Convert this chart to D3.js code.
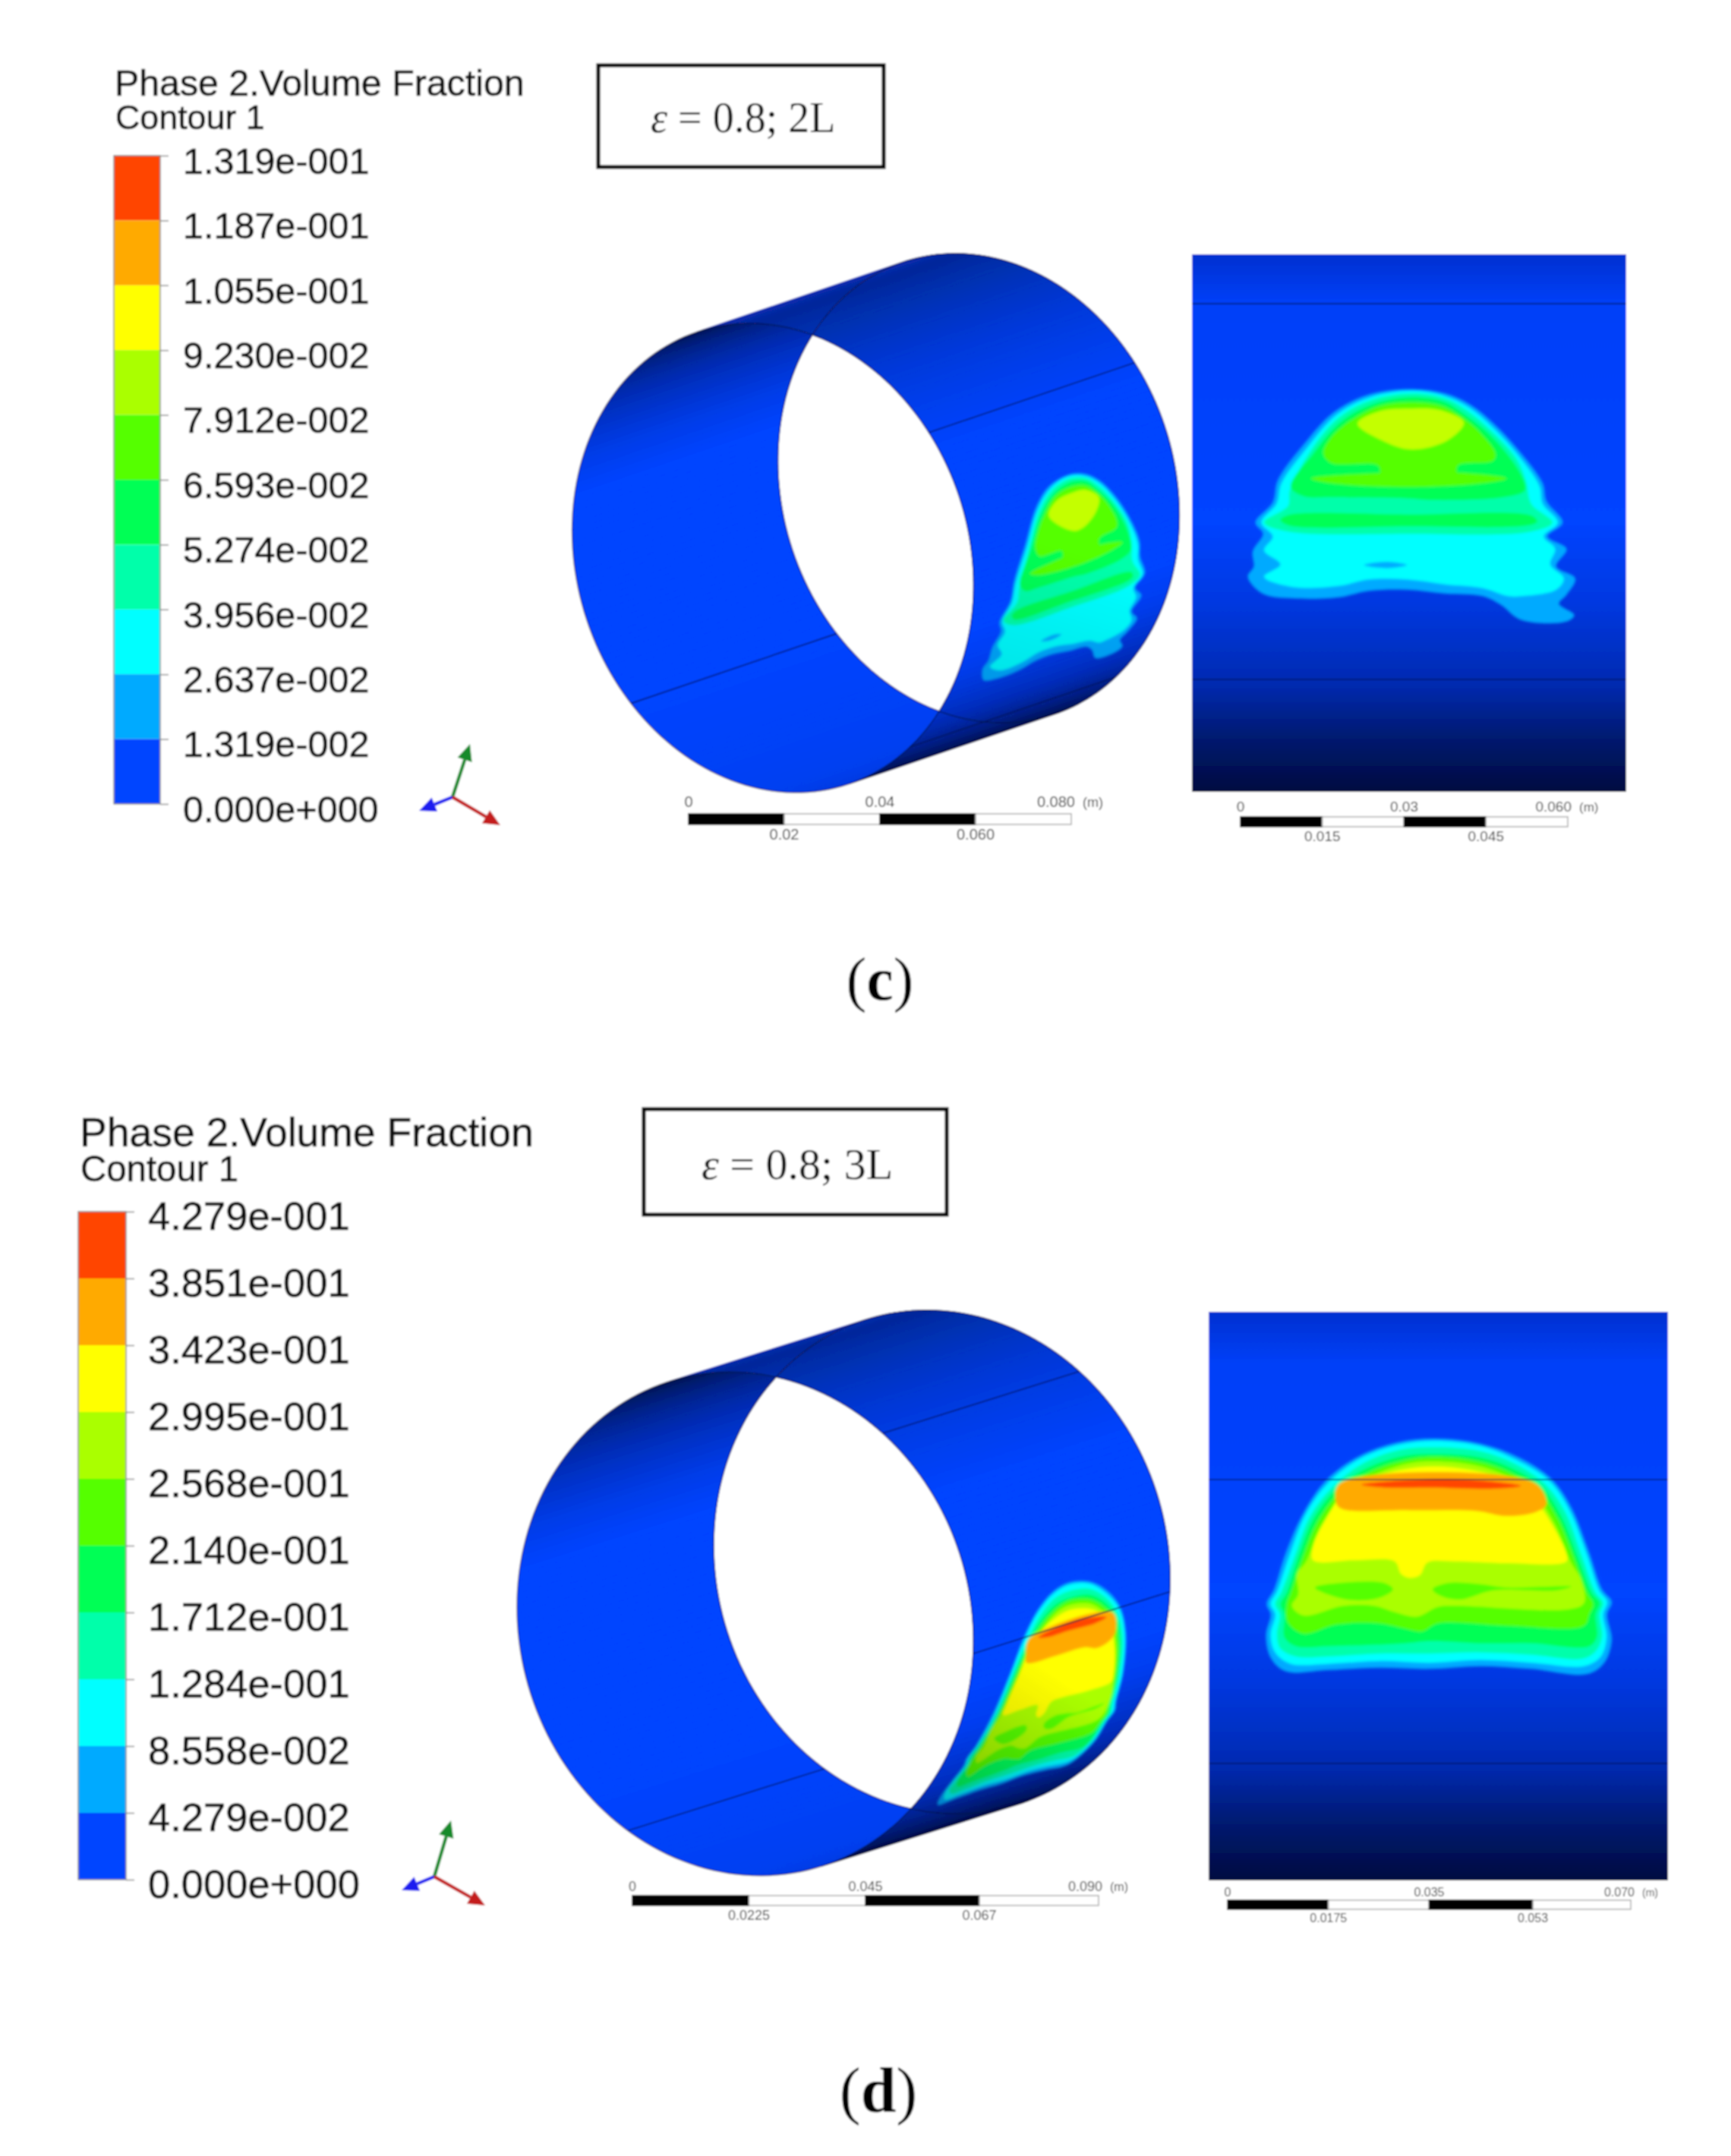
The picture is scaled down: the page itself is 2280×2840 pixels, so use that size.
<!DOCTYPE html>
<html><head><meta charset="utf-8">
<style>html,body{margin:0;padding:0;background:#fff}svg{display:block}text{font-family:"Liberation Sans",Arial,sans-serif}</style>
<script src="https://cdn.jsdelivr.net/npm/d3@7/dist/d3.min.js"></script>
</head><body><script>
// ---------- DATA ----------
const legendTitle = "Phase 2.Volume Fraction";
const legendSub = "Contour 1";
const bandColors = ["#0044ff","#00aaff","#00ffff","#00ffaa","#00ff55","#55ff00","#aaff00","#ffff00","#ffaa00","#ff4400"];
const labelsC = ["1.319e-001","1.187e-001","1.055e-001","9.230e-002","7.912e-002","6.593e-002","5.274e-002","3.956e-002","2.637e-002","1.319e-002","0.000e+000"];
const labelsD = ["4.279e-001","3.851e-001","3.423e-001","2.995e-001","2.568e-001","2.140e-001","1.712e-001","1.284e-001","8.558e-002","4.279e-002","0.000e+000"];
const caseC = "0.8; 2L", caseD = "0.8; 3L";
// scale-bar ticks in metres
const barCylC = [0,0.02,0.04,0.06,0.08], barCylCText = ["0","0.02","0.04","0.060","0.080"];
const barFlatC = [0,0.015,0.03,0.045,0.06], barFlatCText = ["0","0.015","0.03","0.045","0.060"];
const barCylD = [0,0.0225,0.045,0.067,0.09], barCylDText = ["0","0.0225","0.045","0.067","0.090"];
const barFlatD = [0,0.0175,0.035,0.053,0.07], barFlatDText = ["0","0.0175","0.035","0.053","0.070"];
// wall shading along the unrolled wall height (mm)
const wallMm = [0,9,50,65,80,90,100];
const wallColor = ["#0030d0","#0040f8","#0044ff","#0038e0","#002ab0","#001a70","#000a40"];
// cylinder shade against ring angle (deg)
const shadeRightDeg = [-115,-95,-80,-60,-35,10,20,38,52,68];
const shadeRightColor = ["#0a34c0","#06279a","#0630b0","#0038d8","#0044ff","#0044ff","#003ef0","#002cb8","#001c78","#000a40"];
const shadeLeftDeg = [65,90,135,188,198,215,235,248];
const shadeLeftColor = ["#0036d8","#0040f0","#0044ff","#0044ff","#003ce8","#002cb4","#031c70","#02134c"];
// seam heights (mm on the flat view), seam angles (deg on the cylinder)
const seamMmC = [9.2,79.1], seamMmD = [29.5,79.4];
const seamDegC = [-39,47,135], seamDegD = [-53,3,121];
// contour outlines: level = colour band, pts = [mm along the axis, mm down the wall]
const contoursC = [
 {level:1,pts:[[40.6,25.1],[46.6,25.9],[51.3,28],[55.9,31.8],[60.6,37],[64.6,42.6],[65.3,45.9],[68.3,49.9],[65.5,52.5],[69,54.8],[67.1,58.1],[70.6,60.3],[69,63.3],[67.6,65],[70.4,67.1],[69,68.3],[60.6,68],[56.9,65.2],[53.6,63.6],[46.6,63.1],[39.6,62.4],[32.6,62.6],[27,63.8],[18.6,64],[13,63.1],[10.3,60],[11.4,58.1],[11.2,55.3],[13.1,52],[11.7,49.9],[14.9,46.1],[15.8,42.1],[20.5,35.5],[26.1,29.4],[32.6,26.1]]},
 {level:2,pts:[[40.6,25.4],[46.6,26.4],[51,28.5],[55.5,32.3],[60.1,37.4],[64,43.1],[64.6,46.4],[67.4,49.9],[64.8,52.5],[66.9,54.8],[66,57.7],[68.5,60.3],[67.1,62.4],[60.6,63.6],[58.3,63.6],[53.6,62.1],[46.6,61.4],[39.6,60.5],[32.6,60.5],[27,61.7],[18.6,61.9],[13.3,60],[16.3,57.7],[13.3,55.1],[14.9,52.5],[12.8,49.9],[15.6,46.4],[16.5,42.6],[21.2,36],[26.6,29.9],[32.9,26.6]]},
 {level:1,pts:[[31.7,57.8],[35.9,57.2],[39.6,57.8],[35.9,58.4]]},
 {level:3,pts:[[40.6,25.9],[46.6,26.8],[50.6,29],[55,32.7],[59.7,37.9],[61.5,42.1],[62.5,46.4],[66.4,49.9],[62.5,51.6],[39.6,52],[17.7,51.6],[13.3,49.9],[17.7,46.8],[18,44],[21.9,36.5],[27,30.4],[33.1,27.1]]},
 {level:4,pts:[[16.3,49.4],[17.7,48.5],[39.6,48.4],[62.5,48.6],[63.6,49.7],[62,50.4],[39.6,50.6],[17.7,50.4]]},
 {level:4,pts:[[40.6,26.6],[46.6,27.5],[50.1,29.7],[54.5,33.2],[59,38.4],[61.3,42.6],[61.3,44],[57.3,45.2],[44.3,45.7],[39.6,45.4],[25.6,45.2],[20.5,45],[18.2,43.3],[22.4,37],[27.5,31.1],[33.6,27.8]]},
 {level:5,pts:[[21.9,41.7],[34,40.7],[49,40.6],[58,41.7],[53.6,42.6],[40.6,43.3],[25.6,42.6]]},
 {level:5,pts:[[40.6,27.5],[46.1,28.2],[49.9,30.4],[53.1,33.2],[55.9,37],[55.5,38.4],[49,39.3],[48.5,41.2],[35,41.2],[34.3,39.3],[25.6,38.8],[24.2,37],[25.6,34.1],[29.4,30.8],[34.5,28.2]]},
 {level:6.3,pts:[[40.6,28.7],[45.7,29],[50.1,31.3],[47.1,34.6],[40.6,36.3],[35.4,34.8],[30.5,31.5],[34.5,29.2]]}
];
const contoursD = [
 {level:1,pts:[[39.4,22.3],[47.3,23.2],[54,25.6],[59.7,29.4],[63.2,34.5],[66.3,42.5],[68.5,48.8],[70.2,51],[69.4,53.2],[70.2,57.7],[68.9,61.7],[65.9,63.7],[56.2,62.8],[47.3,62.3],[38.5,62.8],[29.7,62.6],[20.9,63],[13.4,63.2],[10.8,60.8],[10,56.8],[10.8,53.2],[10.1,51.4],[11.4,48.8],[13.4,42.5],[16.5,35.4],[20.5,29.6],[26.2,25.4],[32.8,23]]},
 {level:2,pts:[[39.4,22.7],[47.3,23.6],[53.7,26.1],[59.3,29.7],[62.8,34.8],[65.9,42.8],[68,49],[69.4,51],[68.7,53.2],[69.3,57.2],[68.3,60.6],[65.4,62.3],[56.2,61.7],[47.3,61.2],[38.5,61.7],[29.7,61.4],[20.9,61.9],[14.3,61.9],[11.6,59.9],[10.8,56.8],[11.6,53.2],[10.8,51.4],[12,49],[14.1,42.8],[16.9,35.6],[20.9,30],[26.4,25.8],[33,23.4]]},
 {level:3,pts:[[39.4,23.8],[47.3,24.5],[53.3,26.7],[58.6,30.3],[62.1,35.2],[65,43],[67.3,49.2],[68.7,51.2],[68.1,53.2],[68.5,57.2],[67.4,59.7],[65,61],[56.2,60.3],[47.3,59.9],[38.5,60.1],[29.7,60.1],[20.9,60.6],[15.2,60.6],[12.5,59.2],[11.9,56.8],[12.4,53.2],[11.6,51.4],[12.7,49.2],[15,43],[17.6,36.1],[21.6,30.8],[26.8,26.7],[33.2,24.3]]},
 {level:4,pts:[[39.4,25],[47.3,25.6],[52.6,27.4],[57.9,30.7],[61.4,35.9],[64.3,43.2],[66.7,49.4],[68.1,51.2],[67.4,53.2],[67.6,57.2],[66.3,58.8],[56.2,58.3],[47.3,58.3],[38.5,57.9],[34.1,58.3],[20.9,58.8],[15.2,58.8],[13.2,57.2],[13.2,53.2],[12.5,51.4],[13.6,49.4],[15.6,43.2],[18.2,36.5],[22.2,31.2],[27.3,27.6],[33.7,25.4]]},
 {level:5,pts:[[39.4,25.5],[46.9,26.3],[52.2,28.1],[57.3,31.2],[60.8,36.3],[63.7,43.4],[65.9,49.4],[67,51.4],[66.3,53.2],[65.4,55.2],[51.8,55.2],[39.9,54.8],[37.2,56.2],[34.1,55.7],[29.7,54.8],[22.2,55],[16.5,56.6],[13.8,54.6],[13.6,51.4],[14.3,49.4],[16.3,43.4],[18.9,37],[22.9,31.6],[27.7,28.3],[34.1,26.1]]},
 {level:6,pts:[[39.4,26.3],[46.5,27],[51.8,28.8],[56.6,31.9],[60.1,37],[63,43.9],[64.8,47],[65.4,51.2],[62.8,52.3],[42.9,51.7],[39.9,51.9],[36.3,53.6],[32.4,52.8],[28.8,51.7],[23.5,51.7],[16.5,53.4],[14.5,51.7],[15.6,49.7],[15.4,46.1],[17,43.9],[19.6,37.6],[23.5,32.3],[28.2,29],[34.6,26.7]]},
 {level:5,pts:[[18.5,48.5],[22.7,47.7],[30.6,47.7],[32.1,48.8],[29.7,50.3],[24,50.6]]},
 {level:5,pts:[[39,48.8],[41.6,47.7],[47.3,47.9],[51.8,48.5],[63.2,48.3],[60.6,49],[49.5,49],[43.8,50.6],[40.3,49.9]]},
 {level:7,pts:[[39.4,27.2],[45.6,27.8],[51.3,29.3],[56.2,32.3],[59.7,37.2],[62.3,42.5],[62.3,43.9],[51.8,44.2],[42.9,43.9],[38.1,44.1],[36.8,46.3],[35,46.8],[33.5,46.1],[32.4,43.9],[25.3,43.7],[18.2,43.7],[18.2,41.2],[20.5,36.3],[24.2,31],[28.8,29],[34.6,27.6]]},
 {level:8,pts:[[22.9,30.1],[56.8,30.1],[58.8,33.9],[57,35.2],[51.8,35.9],[46.5,35],[35,34.9],[22.9,34.5],[22.1,33]]},
 {level:9,pts:[[26.6,30.4],[34.1,29.6],[45.1,29.5],[54.4,30.6],[50,31.1],[38.5,30.9],[30.6,30.9]]}
];

// ---------- DRAW ----------
const svg = d3.select("body").append("svg").attr("width",2280).attr("height",2840).attr("viewBox","0 0 2280 2840");
const defs = svg.append("defs");
const soft = defs.append("filter").attr("id","soft").attr("filterUnits","userSpaceOnUse").attr("x",0).attr("y",0).attr("width",2280).attr("height",2840);
soft.append("feGaussianBlur").attr("stdDeviation",1.3);
const blob = defs.append("filter").attr("id","blob").attr("filterUnits","userSpaceOnUse").attr("x",0).attr("y",0).attr("width",2280).attr("height",2840);
blob.append("feGaussianBlur").attr("stdDeviation",1.8);
const root = svg.append("g").attr("filter","url(#soft)");
root.append("rect").attr("width",2280).attr("height",2840).attr("fill","#fff");

const rad = d=>d*Math.PI/180;
const smooth = d3.line().curve(d3.curveCatmullRomClosed.alpha(0.5));
const levelColor = d3.scaleLinear().domain(d3.range(bandColors.length)).range(bandColors);

function legend(o,labels){
  const g = root.append("g").attr("stroke-linejoin","round");
  const ink = s=>s.attr("fill","#111").attr("stroke","#111").attr("stroke-width",0.7);
  ink(g.append("text").attr("x",o.x).attr("y",o.titleY).attr("font-size",o.titleSize)).text(legendTitle);
  ink(g.append("text").attr("x",o.x+1).attr("y",o.subY).attr("font-size",o.subSize)).text(legendSub);
  const y = d3.scalePoint().domain(labels).range([o.top,o.bottom]);
  const bands = labels.slice(0,-1).map((l,i)=>({a:l,b:labels[i+1],c:bandColors[bandColors.length-1-i]}));
  g.selectAll("rect.b").data(bands).join("rect").attr("class","b")
    .attr("x",o.barX).attr("width",o.barW).attr("y",d=>y(d.a)).attr("height",d=>y(d.b)-y(d.a)).attr("fill",d=>d.c);
  g.append("rect").attr("x",o.barX).attr("width",o.barW).attr("y",o.top).attr("height",o.bottom-o.top).attr("fill","none").attr("stroke","#8a8a8a").attr("stroke-width",1.5);
  const ax = g.append("g").attr("transform",`translate(${o.barX+o.barW},0)`).call(d3.axisRight(y).tickSize(11).tickPadding(o.pad));
  ax.select(".domain").remove();
  ax.selectAll("line").attr("stroke","#8a8a8a").attr("stroke-width",1.5);
  ink(ax.selectAll("text").attr("font-size",o.labelSize).attr("font-family","Liberation Sans").attr("dy",o.labelDy));
}

function caseBox(o,val){
  const g = root.append("g");
  g.append("rect").attr("x",o.x).attr("y",o.y).attr("width",o.w).attr("height",o.h).attr("fill","#fff").attr("stroke","#000").attr("stroke-width",5);
  const t = g.append("text").attr("x",o.tx).attr("y",o.ty).attr("font-size",o.fs).attr("fill","#111").style("font-family","Liberation Serif");
  t.append("tspan").attr("font-style","italic").text("\u03B5");
  t.append("tspan").text(" = ");
  t.append("tspan").text(val);
}

function wallGradient(id,y0,y1){
  const s = d3.scaleLinear().domain([0,100]).range([y0,y1]);
  const gr = defs.append("linearGradient").attr("id",id).attr("gradientUnits","userSpaceOnUse")
    .attr("x1",0).attr("x2",0).attr("y1",s(0)).attr("y2",s(100));
  wallMm.forEach((m,i)=>gr.append("stop").attr("offset",m/100).attr("stop-color",wallColor[i]));
}

function drawContours(parent,contours,project){
  const g = parent.append("g").attr("filter","url(#blob)");
  g.selectAll("path").data(contours).join("path")
    .attr("d",d=>smooth(d.pts.map(project))).attr("fill",d=>levelColor(d.level));
  return g;
}

function flatPanel(o,contours,seams){
  const x = d3.scaleLinear().domain([0,80]).range([o.x0,o.x1]);
  const y = d3.scaleLinear().domain([0,100]).range([o.y0,o.y1]);
  wallGradient(o.id,o.y0,o.y1);
  const g = root.append("g");
  g.append("rect").attr("x",o.x0).attr("y",o.y0).attr("width",o.x1-o.x0).attr("height",o.y1-o.y0).attr("fill",`url(#${o.id})`);
  drawContours(g,contours,p=>[x(p[0]),y(p[1])]);
  g.selectAll("line").data(seams).join("line").attr("x1",o.x0).attr("x2",o.x1).attr("y1",d=>y(d)).attr("y2",d=>y(d))
    .attr("stroke","#001050").attr("stroke-opacity",0.7).attr("stroke-width",1.6);
}

function cylinder(c,contours,seamDeg){
  const ring = (deg,s=0)=>{const t=rad(deg),co=Math.cos(t),si=Math.sin(t);
    return [c.cx+c.rx*co+s*c.dx, c.cy+c.ey*co+c.ry*si+s*c.dy];};
  const tangent = Math.atan2(c.ry*c.dx, c.ey*c.dx-c.rx*c.dy)*180/Math.PI;
  const shadeR = d3.scaleLinear().domain(shadeRightDeg).range(shadeRightColor).clamp(true);
  const shadeL = d3.scaleLinear().domain(shadeLeftDeg).range(shadeLeftColor).clamp(true);
  const poly = d3.line();
  const quads = (a,b)=>d3.range(a,b,1.5).map(t=>({t,q:[ring(t),ring(Math.min(t+1.5,b)),ring(Math.min(t+1.5,b),1),ring(t,1)]}));
  const g = root.append("g");
  const degs = d3.range(0,361,2);
  const closed = s=>d3.line()(degs.map(d=>ring(d,s)))+"Z";
  const clipId = c.id+"clip";
  defs.append("clipPath").attr("id",clipId).append("path").attr("d",closed(0));
  g.append("g").selectAll("path").data(quads(tangent-180,tangent)).join("path")
    .attr("d",d=>poly(d.q)+"Z").attr("fill",d=>shadeR(d.t)).attr("stroke",d=>shadeR(d.t)).attr("stroke-width",1.2);
  const toWall = d3.scaleLinear().domain([0,100]).range(c.wallDeg);
  const project = p=>ring(toWall(p[1]),p[0]/80);
  const cg = drawContours(g,contours,project);
  // the contour darkens with the wall as it curves away towards the bottom
  const a = project([40,40]), b = project([40,70]);
  const dark = defs.append("linearGradient").attr("id",c.id+"dark").attr("gradientUnits","userSpaceOnUse")
    .attr("x1",a[0]).attr("y1",a[1]).attr("x2",b[0]).attr("y2",b[1]);
  dark.append("stop").attr("offset",0).attr("stop-color","#000020").attr("stop-opacity",0);
  dark.append("stop").attr("offset",1).attr("stop-color","#000020").attr("stop-opacity",c.darken);
  cg.append("path").attr("d",smooth(contours[0].pts.map(project))).attr("fill",`url(#${c.id}dark)`);
  g.append("g").attr("clip-path",`url(#${clipId})`).selectAll("path").data(quads(tangent,tangent+180)).join("path")
    .attr("d",d=>poly(d.q)+"Z").attr("fill",d=>shadeL(d.t)).attr("stroke",d=>shadeL(d.t)).attr("stroke-width",1.2);
  // seams
  g.append("g").selectAll("line").data(seamDeg).join("line")
    .attr("x1",d=>ring(d,0)[0]).attr("y1",d=>ring(d,0)[1]).attr("x2",d=>ring(d,1)[0]).attr("y2",d=>ring(d,1)[1])
    .attr("stroke","#001050").attr("stroke-opacity",0.7).attr("stroke-width",1.6);
  // rims
  [0,1].forEach(s=>g.append("path").attr("d",closed(s)).attr("fill","none").attr("stroke","#0a1440").attr("stroke-opacity",0.65).attr("stroke-width",1.5));
}

function scaleBar(o,ticks,text){
  const x = d3.scaleLinear().domain([0,ticks[ticks.length-1]]).range([o.x0,o.x1]);
  const g = root.append("g");
  const segs = ticks.slice(0,-1).map((t,i)=>({a:t,b:ticks[i+1],i}));
  g.selectAll("rect").data(segs).join("rect").attr("x",d=>x(d.a)).attr("width",d=>x(d.b)-x(d.a)).attr("y",o.y).attr("height",o.h)
    .attr("fill",d=>d.i%2?"#fff":"#000").attr("stroke",d=>d.i%2?"#aaa":"#000").attr("stroke-width",1.5);
  g.selectAll("text").data(ticks).join("text").attr("x",(d,i)=>i===4?x(d)+o.endDx:x(d))
    .attr("y",(d,i)=>i%2?o.lowY:o.topY).attr("text-anchor",(d,i)=>i===4?"end":"middle")
    .attr("font-size",o.fs).attr("fill","#333").text((d,i)=>text[i]);
  g.append("text").attr("x",x(ticks[4])+o.endDx+10).attr("y",o.topY).attr("font-size",o.fs-2).attr("fill","#333").text("(m)");
}

function triad(o){
  const g = root.append("g");
  const arm = (tip,col)=>{
    const dx=tip[0]-o.o[0],dy=tip[1]-o.o[1],l=Math.hypot(dx,dy),ux=dx/l,uy=dy/l,h=22,w=10;
    const base=[tip[0]-ux*h,tip[1]-uy*h];
    g.append("line").attr("x1",o.o[0]).attr("y1",o.o[1]).attr("x2",base[0]).attr("y2",base[1]).attr("stroke",col).attr("stroke-width",4.5);
    g.append("path").attr("d",d3.line()([tip,[base[0]-uy*w,base[1]+ux*w],[base[0]+uy*w,base[1]-ux*w]])+"Z").attr("fill",col);
  };
  arm(o.g,"#148a2a"); arm(o.b,"#1a1af0"); arm(o.r,"#c41e1e");
}

function panelLabel(x,y,fs,ch){
  const t = root.append("text").attr("x",x).attr("y",y).attr("text-anchor","middle").attr("font-size",fs).attr("fill","#000").style("font-family","Liberation Serif");
  t.append("tspan").text("(");
  t.append("tspan").attr("font-weight","bold").text(ch);
  t.append("tspan").text(")");
}

// ----- panel (c) -----
legend({x:151,titleY:126,titleSize:48.3,subY:170,subSize:44.8,top:205,bottom:1059,barX:150,barW:61,pad:19,labelSize:48.5,labelDy:"0.48em"},labelsC);
caseBox({x:788,y:86,w:376,h:134,tx:857,ty:174,fs:56},caseC);
cylinder({id:"cylC",cx:1018,cy:735,rx:264.4,ey:36,ry:307,dx:271,dy:-92,wallDeg:[-49,73],darken:0.1},contoursC,seamDegC);
flatPanel({id:"wallC",x0:1570,x1:2142,y0:335,y1:1043},contoursC,seamMmC);
scaleBar({x0:907,x1:1411,y:1072,h:14,topY:1063,lowY:1106,fs:20,endDx:5},barCylC,barCylCText);
scaleBar({x0:1634,x1:2065,y:1076,h:13,topY:1069,lowY:1108,fs:19,endDx:5},barFlatC,barFlatCText);
triad({o:[596,1050],g:[619,980],b:[552,1068],r:[659,1087]});
panelLabel(1159,1317,80,"c");

// ----- panel (d) -----
legend({x:105,titleY:1510,titleSize:53.5,subY:1556,subSize:47.4,top:1596,bottom:2476,barX:103,barW:63,pad:18,labelSize:52.5,labelDy:"0.44em"},labelsD);
caseBox({x:848,y:1461,w:399,h:139,tx:924,ty:1553,fs:58},caseD);
cylinder({id:"cylD",cx:981.6,cy:2139,rx:300.6,ey:22,ry:331,dx:259,dy:-81.5,wallDeg:[-34.6,92.4],darken:0.22},contoursD,seamDegD);
flatPanel({id:"wallD",x0:1592,x1:2197,y0:1728,y1:2477},contoursD,seamMmD);
scaleBar({x0:833,x1:1447,y:2497,h:13,topY:2491,lowY:2529,fs:18,endDx:5},barCylD,barCylDText);
scaleBar({x0:1617,x1:2148,y:2503,h:12,topY:2498,lowY:2532,fs:16,endDx:5},barFlatD,barFlatDText);
triad({o:[572,2472],g:[594,2398],b:[529,2490],r:[639,2510]});
panelLabel(1157,2782,84,"d");
</script></body></html>
